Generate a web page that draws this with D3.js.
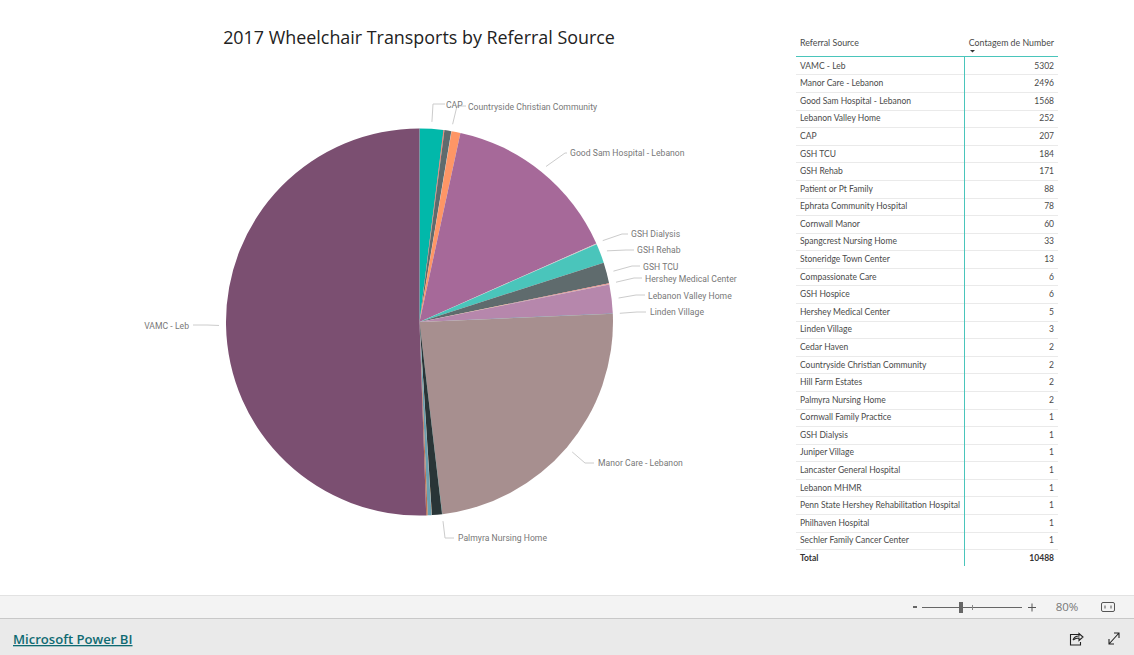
<!DOCTYPE html>
<html>
<head>
<meta charset="utf-8">
<script src="https://cdn.jsdelivr.net/npm/d3@7"></script>
<style>
  html, body { margin: 0; padding: 0; background: #fff; overflow: hidden; }
  svg { display: block; }
  .tbl text { font-family: Lato, sans-serif; font-size: 8.5px; fill: #4a4a4a; }
  .tbl text.head { font-size: 8.8px; }
  .lbl { font-family: Roboto, sans-serif; font-size: 8.6px; fill: #777; letter-spacing: .03px; }
</style>
</head>
<body>
<svg id="chart" width="1134" height="655"></svg>
<script>
// pie order, as the visual sorts it (alphabetical)
const sliceNames = ['CAP', 'Cedar Haven', 'Compassionate Care', 'Cornwall Family Practice', 'Cornwall Manor',
    'Countryside Christian Community', 'Ephrata Community Hospital', 'Good Sam Hospital - Lebanon', 'GSH Dialysis',
    'GSH Hospice', 'GSH Rehab', 'GSH TCU', 'Hershey Medical Center', 'Hill Farm Estates', 'Juniper Village',
    'Lancaster General Hospital', 'Lebanon MHMR', 'Lebanon Valley Home', 'Linden Village', 'Manor Care - Lebanon',
    'Palmyra Nursing Home', 'Patient or Pt Family', 'Penn State Hershey Rehabilitation Hospital', 'Philhaven Hospital',
    'Sechler Family Cancer Center', 'Spangcrest Nursing Home', 'Stoneridge Town Center', 'VAMC - Leb']
const sliceValues = [207, 2, 6, 1, 60, 2, 78, 1568, 1, 6, 171, 184, 5, 2, 1, 1, 1, 252, 3, 2496, 2, 88, 1, 1, 1, 33, 13, 5302]
const sliceColors = ['#01B8AA', '#374649', '#FD625E', '#F2C80F', '#5F6B6D', '#8AD4EB', '#FE9666', '#A66999', '#3599B8',
    '#DFBFBF', '#4AC5BB', '#5F6B6D', '#FB8281', '#F4D25A', '#7F898A', '#A4DDEE', '#FDAB89', '#B687AC', '#28738A',
    '#A78F8F', '#168980', '#293537', '#BB4A4A', '#B59525', '#475052', '#6A9FB0', '#BD7150', '#7B4F71']

// table order, sorted by count
const tableNames = ['VAMC - Leb', 'Manor Care - Lebanon', 'Good Sam Hospital - Lebanon', 'Lebanon Valley Home', 'CAP',
    'GSH TCU', 'GSH Rehab', 'Patient or Pt Family', 'Ephrata Community Hospital', 'Cornwall Manor',
    'Spangcrest Nursing Home', 'Stoneridge Town Center', 'Compassionate Care', 'GSH Hospice', 'Hershey Medical Center',
    'Linden Village', 'Cedar Haven', 'Countryside Christian Community', 'Hill Farm Estates', 'Palmyra Nursing Home',
    'Cornwall Family Practice', 'GSH Dialysis', 'Juniper Village', 'Lancaster General Hospital', 'Lebanon MHMR',
    'Penn State Hershey Rehabilitation Hospital', 'Philhaven Hospital', 'Sechler Family Cancer Center']
const tableValues = [5302, 2496, 1568, 252, 207, 184, 171, 88, 78, 60, 33, 13, 6, 6, 5, 3, 2, 2, 2, 2, 1, 1, 1, 1, 1, 1, 1, 1]
const tableTotal = 10488

const labelled = ['CAP', 'Countryside Christian Community', 'Good Sam Hospital - Lebanon', 'GSH Dialysis', 'GSH Rehab',
    'GSH TCU', 'Hershey Medical Center', 'Lebanon Valley Home', 'Linden Village', 'Manor Care - Lebanon',
    'Palmyra Nursing Home', 'VAMC - Leb']

// where each outside label sits: elbow of the leader, end of leader, text x, text y
const labelLayout = {
    'CAP': [433, 104, 445, 446, 105],
    'Countryside Christian Community': [457, 106, 466, 468, 107],
    'Good Sam Hospital - Lebanon': [565, 153, 567, 570, 153],
    'GSH Dialysis': [622, 234, 628, 631, 234],
    'GSH Rehab': [626, 250, 634, 637, 250],
    'GSH TCU': [632, 266, 640, 643, 267],
    'Hershey Medical Center': [634, 278, 642, 645, 279],
    'Lebanon Valley Home': [636, 295, 645, 648, 296],
    'Linden Village': [637, 312, 646, 650, 312],
    'Manor Care - Lebanon': [585, 463, 594, 598, 463],
    'Palmyra Nursing Home': [445, 538, 454, 458, 538],
    'VAMC - Leb': [207, 325, 193, 189, 326]
}

const svg = d3.select('#chart')

svg.append('text')
    .attr('x', 419)
    .attr('y', 44)
    .attr('text-anchor', 'middle')
    .style('font', '17.9px "Open Sans", sans-serif')
    .style('fill', '#222')
    .text('2017 Wheelchair Transports by Referral Source')

//pie
const cx = 419.5, cy = 322, radius = 193.5
const pieData = d3.pie().sort(null).value(d => d.value)(
    sliceNames.map((name, i) => ({name, value: sliceValues[i], color: sliceColors[i]})))
const arc = d3.arc().innerRadius(0).outerRadius(radius)
const leaderArc = d3.arc().innerRadius(radius + 7).outerRadius(radius + 7)

const pieG = svg.append('g').attr('transform', `translate(${cx},${cy})`)
pieG.selectAll('path')
    .data(pieData)
    .join('path')
    .attr('d', arc)
    .attr('fill', d => d.data.color)

//leader lines and labels
const labelData = pieData.filter(d => labelled.includes(d.data.name))
svg.append('g')
    .selectAll('path')
    .data(labelData)
    .join('path')
    .attr('fill', 'none')
    .attr('stroke', '#ccc')
    .attr('d', d => {
        const [ex, ey, endX] = labelLayout[d.data.name]
        const [sx, sy] = leaderArc.centroid(d)
        return d3.line()([[sx + cx, sy + cy], [ex, ey], [endX, ey]])
    })

svg.append('g')
    .selectAll('text')
    .data(labelData)
    .join('text')
    .attr('class', 'lbl')
    .attr('x', d => labelLayout[d.data.name][3])
    .attr('y', d => labelLayout[d.data.name][4])
    .attr('dy', '0.35em')
    .attr('text-anchor', d => d.data.name === 'VAMC - Leb' ? 'end' : 'start')
    .text(d => d.data.name)

//table
const rowY = d3.scaleLinear().domain([0, tableNames.length]).range([65.7, 558])
const tbl = svg.append('g').attr('class', 'tbl')

tbl.selectAll('line.sep')
    .data(d3.range(1, tableNames.length + 1))
    .join('line')
    .attr('class', 'sep')
    .attr('x1', 796).attr('x2', 1058)
    .attr('y1', i => Math.round(rowY(i) - 8.8) + 0.5)
    .attr('y2', i => Math.round(rowY(i) - 8.8) + 0.5)
    .attr('stroke', '#eaeaea')

tbl.append('text').attr('class', 'head').attr('x', 800).attr('y', 43).attr('dy', '0.35em').text('Referral Source')
tbl.append('text').attr('class', 'head').attr('x', 1054).attr('y', 43).attr('dy', '0.35em').attr('text-anchor', 'end').text('Contagem de Number')
tbl.append('path').attr('d', 'M970 50h5l-2.5 2.5z').attr('fill', '#333')

tbl.selectAll('text.name')
    .data(tableNames)
    .join('text')
    .attr('class', 'name')
    .attr('x', 800)
    .attr('y', (_, i) => rowY(i))
    .attr('dy', '0.35em')
    .text(d => d)

tbl.selectAll('text.val')
    .data(tableValues)
    .join('text')
    .attr('class', 'val')
    .attr('x', 1054)
    .attr('y', (_, i) => rowY(i))
    .attr('dy', '0.35em')
    .attr('text-anchor', 'end')
    .text(d => d)

tbl.append('text').attr('x', 800).attr('y', rowY(tableNames.length)).attr('dy', '0.35em')
    .style('font-weight', 700).style('fill', '#333').text('Total')
tbl.append('text').attr('x', 1054).attr('y', rowY(tableNames.length)).attr('dy', '0.35em').attr('text-anchor', 'end')
    .style('font-weight', 700).style('fill', '#333').text(tableTotal)

tbl.append('line').attr('x1', 796).attr('x2', 1058).attr('y1', 56.5).attr('y2', 56.5).attr('stroke', '#4AC5BB').attr('stroke-width', 1)
tbl.append('line').attr('x1', 964.5).attr('x2', 964.5).attr('y1', 56).attr('y2', 566).attr('stroke', '#4AC5BB').attr('stroke-width', 1)

//footer chrome
svg.append('rect').attr('x', 0).attr('y', 595).attr('width', 1134).attr('height', 23).attr('fill', '#f3f3f3')
svg.append('rect').attr('x', 0).attr('y', 618).attr('width', 1134).attr('height', 37).attr('fill', '#eaeaea')
svg.append('line').attr('x1', 0).attr('x2', 1134).attr('y1', 595.5).attr('y2', 595.5).attr('stroke', '#e2e2e2')
svg.append('line').attr('x1', 0).attr('x2', 1134).attr('y1', 618.5).attr('y2', 618.5).attr('stroke', '#c8c8c8')

const foot = svg.append('g')
foot.append('rect').attr('x', 913).attr('y', 606).attr('width', 4).attr('height', 2).attr('fill', '#666')
foot.append('line').attr('x1', 922).attr('x2', 1022).attr('y1', 607.5).attr('y2', 607.5).attr('stroke', '#666')
foot.append('line').attr('x1', 972.5).attr('x2', 972.5).attr('y1', 605).attr('y2', 610).attr('stroke', '#888')
foot.append('rect').attr('x', 959).attr('y', 602).attr('width', 4).attr('height', 11).attr('fill', '#666')
foot.append('path').attr('d', 'M1028 607.5h8M1032 603.5v8').attr('stroke', '#555').attr('fill', 'none')
foot.append('text').attr('x', 1067).attr('y', 607).attr('dy', '0.35em').attr('text-anchor', 'middle')
    .style('font', '11.5px "Open Sans", sans-serif').style('fill', '#777').text('80%')
foot.append('rect').attr('x', 1101.5).attr('y', 602.5).attr('width', 13).attr('height', 9).attr('rx', 1.5)
    .attr('fill', 'none').attr('stroke', '#555')
foot.append('path').attr('d', 'M1105 605.5v3M1111 605.5v3').attr('stroke', '#555')

foot.append('text').attr('x', 13).attr('y', 644)
    .style('font', '600 13.1px "Open Sans", sans-serif').style('fill', '#0f6a72').style('text-decoration', 'underline')
    .text('Microsoft Power BI')

//share and full screen icons
foot.append('path').attr('d', 'M1079 634.5h-8.5v10.5h10v-3M1073 640c1-3 3-4 6-4v-2.5l4 3.5-4 3.5v-2.5c-2 0-4 .5-6 2')
    .attr('fill', 'none').attr('stroke', '#222').attr('stroke-width', 1.1)
foot.append('path').attr('d', 'M1109 644l10-11M1114 633h5v5M1109 639v5h5')
    .attr('fill', 'none').attr('stroke', '#222').attr('stroke-width', 1.1)
</script>
</body>
</html>
